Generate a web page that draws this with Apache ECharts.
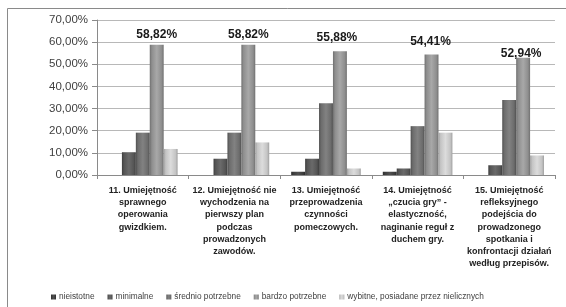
<!DOCTYPE html>
<html>
<head>
<meta charset="utf-8">
<script src="https://cdn.jsdelivr.net/npm/echarts@6/dist/echarts.min.js"></script>
<style>
  html, body { margin: 0; padding: 0; background: #fff; }
  #chart { width: 566px; height: 307px; }
</style>
</head>
<body>
<div id="chart"></div>
<script>
// kategorie (oś X)
var categories = [
  '11. Umiejętność\nsprawnego\noperowania\ngwizdkiem.',
  '12. Umiejętność nie\nwychodzenia na\npierwszy plan\npodczas\nprowadzonych\nzawodów.',
  '13. Umiejętność\nprzeprowadzenia\nczynności\npomeczowych.',
  '14. Umiejętność\n„czucia gry” -\nelastyczność,\nnaginanie reguł z\nduchem gry.',
  '15. Umiejętność\nrefleksyjnego\npodejścia do\nprowadzonego\nspotkania i\nkonfrontacji działań\nwedług przepisów.'
];
var seriesNames = ['nieistotne', 'minimalne', 'średnio potrzebne', 'bardzo potrzebne', 'wybitne, posiadane przez nielicznych'];

// wartości w %
var nieistotne = [0, 0, 1.47, 1.47, 0];
var minimalne = [10.29, 7.35, 7.35, 2.94, 4.41];
var srednio = [19.12, 19.12, 32.35, 22.06, 33.82];
var bardzo = [58.82, 58.82, 55.88, 54.41, 52.94];
var wybitne = [11.76, 14.71, 2.94, 19.12, 8.82];

var yTicks = [0, 10, 20, 30, 40, 50, 60, 70];

// przesunięcia etykiet (ręcznie ustawione jak w Excelu)
var labelShift = [[0, 0], [0, 0], [-3, -4], [-1, -3], [-2, 6]];

var baseColors = ['#3c3c3c', '#555555', '#6c6c6c', '#8e8e8e', '#c4c4c4'];
var edgeColors = ['#2a2a2a', '#3e3e3e', '#505050', '#707070', '#a0a0a0'];
var midColors = ['#505050', '#6a6a6a', '#828282', '#a8a8a8', '#dcdcdc'];

var FONT = 'Liberation Sans';

function grad(i) {
  return {
    type: 'linear', x: 0, y: 0, x2: 1, y2: 0,
    colorStops: [
      { offset: 0, color: edgeColors[i] },
      { offset: 0.15, color: baseColors[i] },
      { offset: 0.5, color: midColors[i] },
      { offset: 0.85, color: baseColors[i] },
      { offset: 1, color: edgeColors[i] }
    ]
  };
}

function fmt(v) {
  return v.toFixed(2).replace('.', ',') + '%';
}

var allData = [nieistotne, minimalne, srednio, bardzo, wybitne];

var series = allData.map(function (arr, i) {
  var s = {
    name: seriesNames[i],
    type: 'bar',
    barGap: '0%',
    barCategoryGap: '24%',
    itemStyle: { color: grad(i) },
    data: arr.slice()
  };
  if (i === 3) {
    s.data = arr.map(function (v, k) {
      return {
        value: v,
        label: {
          show: true,
          position: 'top',
          distance: 4,
          offset: labelShift[k],
          formatter: function (p) { return fmt(p.value); },
          fontFamily: FONT,
          fontWeight: 'bold',
          fontSize: 12,
          color: '#1a1a1a'
        }
      };
    });
  }
  return s;
});

var chart = echarts.init(document.getElementById('chart'));
chart.setOption({
  animation: false,
  backgroundColor: '#fff',
  color: baseColors,
  graphic: [{
    type: 'rect',
    shape: { x: 7.5, y: 8.5, width: 700, height: 400 },
    style: { fill: 'none', stroke: '#8a8a8a', lineWidth: 1 },
    silent: true,
    z: -1
  }],
  grid: { left: 97, right: 11, top: 20, bottom: 132, containLabel: false },
  legend: {
    bottom: 1,
    left: 46,
    itemWidth: 5,
    itemHeight: 5,
    itemGap: 13,
    icon: 'rect',
    textStyle: { fontSize: 8.3, color: '#404040', fontFamily: FONT, padding: [0, 0, 0, -2] },
    data: seriesNames
  },
  xAxis: {
    type: 'category',
    data: categories,
    axisLine: { lineStyle: { color: '#8a8a8a' } },
    axisTick: { show: true, length: 4, lineStyle: { color: '#8a8a8a' } },
    axisLabel: {
      interval: 0,
      margin: 9,
      fontSize: 9,
      lineHeight: 12.3,
      fontWeight: 'bold',
      fontFamily: FONT,
      color: '#222'
    }
  },
  yAxis: {
    type: 'value',
    min: yTicks[0],
    max: yTicks[yTicks.length - 1],
    interval: 10,
    axisLine: { show: true, lineStyle: { color: '#8a8a8a' } },
    axisTick: { show: true, length: 5, lineStyle: { color: '#8a8a8a' } },
    splitLine: { lineStyle: { color: '#b8b8b8' } },
    axisLabel: {
      margin: 9,
      fontSize: 11.5,
      fontFamily: FONT,
      color: '#404040',
      formatter: function (v) { return fmt(v); }
    }
  },
  series: series
});
</script>
</body>
</html>
